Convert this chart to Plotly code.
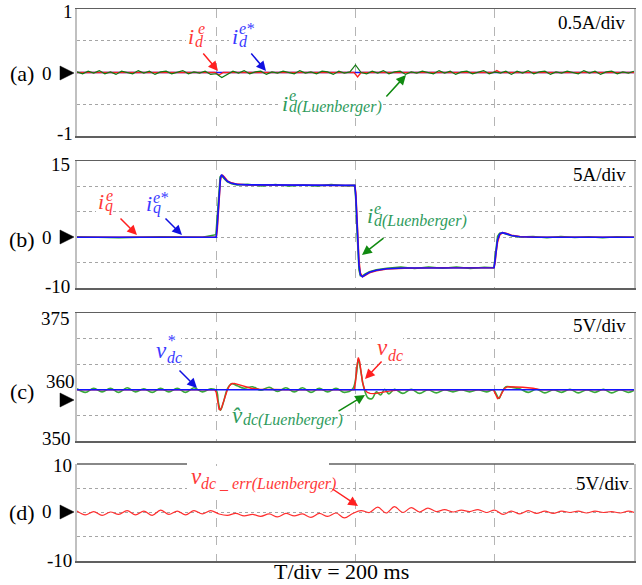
import plotly.graph_objects as go

# ---------------- data (time in ms) ----------------
# (a) d-axis current, A
t_id_luen = [0, 8, 16, 24, 32, 40, 48, 56, 64, 72,
             80, 88, 96, 104, 112, 120, 128, 136, 144, 152,
             160, 168, 176, 184, 192, 200, 208, 216, 224, 232,
             240, 248, 256, 264, 272, 280, 288, 296, 304, 312,
             320, 328, 336, 344, 352, 360, 368, 376, 384, 392,
             400, 408, 416, 424, 432, 440, 448, 456, 464, 472,
             480, 488, 496, 504, 512, 520, 528, 536, 544, 552,
             560, 568, 576, 584, 592, 600, 608, 616, 624, 632,
             640, 648, 656, 664, 672, 680, 688, 696, 704, 712,
             720, 728, 736, 744, 752, 760, 768, 776, 784, 792,
             800]
id_luen = [0.01, -0.02, 0.02, -0.01, 0.03, -0.02, 0.01, -0.03, 0.02, 0.00,
           -0.02, 0.03, -0.01, 0.02, -0.03, 0.01, 0.02, -0.02, 0.00, 0.03,
           -0.02, 0.01, -0.01, 0.02, -0.03, -0.02, -0.08, -0.03, 0.02, -0.01,
           0.03, -0.02, 0.01, 0.02, -0.03, 0.01, -0.01, 0.02, 0.00, -0.02,
           0.03, -0.01, 0.01, -0.02, 0.02, 0.01, -0.03, 0.02, -0.01, 0.01,
           0.12, 0.00, -0.02, 0.02, -0.01, 0.03, -0.02, 0.01, 0.02, -0.03,
           0.01, -0.01, 0.02, 0.00, -0.02, 0.03, -0.01, 0.02, -0.03, 0.01,
           0.02, -0.02, 0.00, 0.03, -0.02, 0.01, -0.01, 0.02, -0.03, 0.02,
           -0.01, 0.03, -0.02, 0.01, 0.02, -0.03, 0.01, -0.01, 0.02, 0.00,
           -0.02, 0.03, -0.01, 0.02, -0.03, 0.01, 0.02, -0.02, 0.01, -0.01,
           0.02]
t_id_meas = [0, 198, 204, 210, 398, 403, 408, 598, 603, 608, 800]
id_meas = [0, 0, -0.04, 0, 0, -0.07, 0, 0, 0.03, 0, 0]
t_id_ref = [0, 800]
id_ref = [0, 0]

# (b) q-axis current, A
t_iq = [0, 200, 201.5, 203, 204.5, 206, 207.5, 209, 212, 216,
        222, 230, 245, 300, 399, 400.5, 402, 403.5, 405, 407,
        410, 414, 420, 430, 445, 470, 520, 599, 600.5, 602,
        604, 607, 611, 616, 624, 636, 660, 800]
iq_ref = [0, 0, 2.5, 6, 9.5, 11.6, 12.2, 12.1, 11.6, 11.0,
          10.6, 10.4, 10.3, 10.25, 10.2, 8, 3, -2, -5.5, -7.4,
          -7.8, -7.4, -6.9, -6.5, -6.2, -6.05, -6.0, -6.0, -4.5, -2.5,
          -0.5, 0.6, 0.9, 0.7, 0.35, 0.1, 0, 0]
iq_meas = [0, 0, 1.5, 4.5, 8.5, 11.2, 12.1, 12.2, 11.8, 11.1,
           10.7, 10.45, 10.3, 10.25, 10.2, 8.8, 4, -1, -4.5, -7,
           -7.8, -7.5, -7.0, -6.6, -6.25, -6.1, -6.0, -6.0, -5, -3,
           -1, 0.4, 0.9, 0.8, 0.4, 0.15, 0, 0]
t_iq_luen = [0, 60, 120, 180, 199.5, 201, 202.5, 204, 205.5, 207,
             209, 212, 216, 222, 230, 245, 265, 285, 305, 325,
             345, 365, 385, 399, 400.5, 402, 403.5, 405, 407, 410,
             414, 420, 430, 445, 465, 485, 505, 525, 545, 565,
             585, 599, 600.5, 602, 604, 607, 611, 616, 624, 636,
             655, 675, 695, 715, 735, 755, 775, 800]
iq_luen = [0.1, -0.1, 0.1, 0, 0.5, 3.5, 7.5, 10.5, 11.9, 12.1,
           11.9, 11.4, 10.9, 10.5, 10.3, 10.4, 10.1, 10.35, 10.1, 10.3,
           10.1, 10.35, 10.15, 10.2, 7, 1.5, -3.5, -6.5, -7.6, -7.6,
           -7.2, -6.8, -6.4, -6.1, -5.85, -6.15, -5.85, -6.1, -5.85, -6.15,
           -5.9, -6.0, -3.8, -1.5, 0.2, 0.8, 0.85, 0.6, 0.3, 0.05,
           0.15, -0.1, 0.15, -0.05, 0.1, -0.1, 0.1, 0]

# (c) dc-link voltage, V
t_vdc_ref = [0, 800]
vdc_ref = [360, 360]
t_vdc = [0, 198, 200, 202, 204, 206, 208, 210, 213, 216,
         219, 222, 226, 230, 236, 242, 250, 262, 280, 300,
         398, 400, 402, 404, 406, 408, 410, 413, 417, 421,
         426, 432, 440, 450, 465, 598, 601, 604, 607, 610,
         614, 619, 626, 640, 655, 665, 800]
vdc = [360, 360, 359.5, 357.5, 356.2, 356.1, 356.6, 357.5, 358.8, 360.0,
       360.8, 361.2, 361.25, 361.1, 360.8, 360.55, 360.3, 360.1, 360.0, 360.0,
       360.0, 361.5, 364.5, 366.3, 365.5, 363.5, 361.5, 360.1, 359.5, 359.3,
       359.25, 359.35, 359.55, 359.8, 360.0, 360.0, 359.2, 358.3, 358.5, 359.4,
       360.3, 360.6, 360.6, 360.5, 360.3, 360.0, 360.0]
t_vdc_luen = [0, 12, 24, 36, 48, 60, 72, 84, 96, 108,
              120, 132, 144, 156, 168, 180, 192, 200, 203, 206,
              210, 216, 222, 230, 240, 252, 264, 276, 288, 300,
              312, 324, 336, 348, 360, 372, 384, 396, 401, 404,
              407, 412, 418, 424, 430, 436, 442, 448, 456, 468,
              480, 492, 504, 516, 528, 540, 552, 564, 576, 588,
              598, 602, 606, 610, 616, 624, 636, 648, 660, 672,
              684, 696, 708, 720, 732, 744, 756, 768, 780, 792,
              800]
vdc_luen = [360.2, 359.5, 360.3, 359.6, 360.3, 359.5, 360.4, 359.6, 360.2, 359.5,
            360.3, 359.6, 360.3, 359.5, 360.4, 359.6, 360.2, 359.9, 357.6, 356.0,
            357.4, 360.2, 361.2, 360.8, 360.3, 360.6, 359.9, 360.5, 359.7, 360.4,
            359.6, 360.4, 359.5, 360.3, 359.6, 360.3, 359.5, 360.2, 362.8, 366.0,
            364.2, 360.4, 358.4, 358.3, 359.6, 359.0, 360.1, 359.2, 360.1, 359.3,
            360.1, 359.3, 360.0, 359.4, 360.0, 359.6, 360.0, 359.6, 360.0, 359.6,
            360.0, 359.2, 358.3, 359.4, 360.6, 360.5, 360.2, 359.5, 360.1, 359.4,
            360.0, 359.5, 360.1, 359.4, 360.0, 359.5, 360.1, 359.4, 360.0, 359.5,
            359.9]

# (d) dc-link voltage estimation error, V
t_err = [0, 12, 24, 36, 48, 60, 72, 84, 96, 108,
         120, 132, 144, 156, 168, 180, 192, 204, 216, 228,
         240, 252, 264, 276, 288, 300, 312, 324, 336, 348,
         360, 372, 384, 396, 408, 420, 432, 444, 456, 468,
         480, 492, 504, 516, 528, 540, 552, 564, 576, 588,
         600, 612, 624, 636, 648, 660, 672, 684, 696, 708,
         720, 732, 744, 756, 768, 780, 792, 800]
vdc_err = [0.3, -0.5, 0.2, -0.6, 0.1, -0.4, 0.4, -0.5, 0.3, -0.6,
           0.5, -0.4, 0.3, -0.5, 0.4, -0.3, 0.4, -0.3, -0.6, -0.2,
           -0.7, -0.4, -0.8, -0.3, -0.9, -0.2, -0.7, -0.3, -1.0, -0.2,
           -0.8, -0.1, -1.1, -0.2, 0.4, 0.0, 1.1, -0.1, 1.2, 0.0,
           1.0, 0.1, 0.9, 0.2, 0.6, 0.1, 0.5, 0.2, 0.6, 0.0,
           0.5, -0.4, 0.3, -0.3, 0.4, -0.2, 0.3, -0.2, 0.3, 0.0,
           0.3, -0.1, 0.3, 0.0, 0.2, -0.1, 0.3, 0.0]

# axes
y_ranges = [(-1, 1), (-10, 15), (350, 375), (-10, 10)]
y_dticks = [0.5, 5, 5, 5]
panel_names = ["(a)", "(b)", "(c)", "(d)"]
scale_labels = ["0.5A/div", "5A/div", "5V/div", "5V/div"]
tick_labels = [["1", "0", "-1"], ["15", "0", "-10"], ["375", "360", "350"], ["10", "0", "-10"]]
x_label = "T/div = 200 ms"

# ---------------- layout geometry (pixels) ----------------
W, H = 642, 585
X0, X1 = 77, 634
panels = [(9, 136), (161, 288), (313, 441), (464, 561)]
SERIF = "Times New Roman, Liberation Serif, serif"

def fx(x):
    return x / W

def fy(y):
    return 1 - y / H

RED, BLUE = "#ff1f1f", "#1414ff"
LRED, LBLUE, LGREEN = "#ff3838", "#3a3aff", "#2e9b5c"

fig = go.Figure()

def add(t, v, k, color, width, shape="linear"):
    fig.add_trace(go.Scatter(
        x=t, y=v, mode="lines",
        xaxis="x" if k == 1 else f"x{k}", yaxis="y" if k == 1 else f"y{k}",
        line=dict(color=color, width=width, shape=shape),
        hoverinfo="skip", showlegend=False))

add(t_id_ref, id_ref, 1, BLUE, 1.4)
add(t_id_meas, id_meas, 1, RED, 1.3)
add(t_id_luen, id_luen, 1, "#127a12", 1.2)

add(t_iq_luen, iq_luen, 2, "#2ca02c", 1.5)
add(t_iq, iq_meas, 2, RED, 1.5)
add(t_iq, iq_ref, 2, BLUE, 1.6)

add(t_vdc_luen, vdc_luen, 3, "#3aa83a", 1.6, "spline")
add(t_vdc, vdc, 3, RED, 1.4)
add(t_vdc_ref, vdc_ref, 3, BLUE, 1.6)

add(t_err, vdc_err, 4, "#ff3030", 1.2, "spline")

layout = dict(width=W, height=H, margin=dict(l=0, r=0, t=0, b=0),
              paper_bgcolor="white", plot_bgcolor="white", showlegend=False)
for k, ((top, bot), (lo, hi), dt) in enumerate(zip(panels, y_ranges, y_dticks), start=1):
    xs = "xaxis" if k == 1 else f"xaxis{k}"
    ys = "yaxis" if k == 1 else f"yaxis{k}"
    layout[xs] = dict(domain=[fx(X0), fx(X1)], range=[0, 800],
                      anchor="y" if k == 1 else f"y{k}",
                      showgrid=True, gridcolor="#b5b5b5", griddash="dash", gridwidth=1,
                      tick0=0, dtick=200, showticklabels=False, ticks="",
                      zeroline=False, showline=True, linecolor="#606060",
                      linewidth=1.5, mirror=(k != 4))
    layout[ys] = dict(domain=[fy(bot), fy(top)], range=[lo, hi],
                      anchor="x" if k == 1 else f"x{k}",
                      showgrid=True, gridcolor="#a5a5a5", griddash="dot", gridwidth=1,
                      tick0=lo, dtick=dt, showticklabels=False, ticks="",
                      zeroline=False, showline=True, linecolor="#c0c0c0",
                      linewidth=2, mirror=True)
fig.update_layout(**layout)

shapes = []
# panel (d) top border with a gap behind its label
for xa, xb in [(X0, 187), (329, X1)]:
    shapes.append(dict(type="line", xref="paper", yref="paper",
                       x0=fx(xa), x1=fx(xb), y0=fy(464), y1=fy(464),
                       line=dict(color="#606060", width=1.5)))
# white label backgrounds
for (xa, ya, xb, yb) in [(186, 22, 204, 47), (229, 20, 253, 47), (279, 90, 381, 118),
                         (96, 190, 113, 218), (143, 190, 165, 218), (364, 204, 463, 231),
                         (153, 335, 181, 364), (372, 336, 403, 362), (229, 405, 340, 428),
                         (187, 466, 329, 493)]:
    shapes.append(dict(type="rect", xref="paper", yref="paper", layer="above",
                       x0=fx(xa), x1=fx(xb), y0=fy(yb), y1=fy(ya),
                       fillcolor="white", line=dict(width=0)))
# black triangles marking zero / reference levels
for c in [73, 237, 400, 512]:
    shapes.append(dict(type="path", xref="paper", yref="paper",
                       path=f"M {fx(60)} {fy(c - 7)} L {fx(74)} {fy(c)} L {fx(60)} {fy(c + 7)} Z",
                       fillcolor="black", line=dict(color="black", width=0.5)))
fig.update_layout(shapes=shapes)

ann = []

def txt(s, x, y, size, color="black", xanchor="left", yanchor="middle"):
    ann.append(dict(text=s, x=fx(x), y=fy(y), xref="paper", yref="paper",
                    xanchor=xanchor, yanchor=yanchor, showarrow=False, borderpad=0,
                    font=dict(family=SERIF, size=size, color=color)))

def ital(s, x, baseline, size, color):
    txt(f"<i>{s}</i>", x, baseline - 0.3 * size, size, color)

def arrow(hx, hy, tx, ty, color):
    ann.append(dict(text="", x=fx(hx), y=fy(hy), xref="paper", yref="paper",
                    ax=tx - hx, ay=ty - hy, showarrow=True, arrowhead=2,
                    arrowsize=1.3, arrowwidth=1.5, arrowcolor=color, standoff=0))

# tick labels, panel names, scales
tick_pos = [[(74, 11), (53, 73), (74, 134)],
            [(71, 164), (53, 237), (71, 286)],
            [(71, 318), (76, 381), (72, 438)],
            [(73, 466), (53, 511), (73, 560)]]
name_pos = [73, 239, 391, 512]
scale_pos = [(627, 23), (627, 174), (627, 325), (630, 484)]
for k in range(4):
    for lab, (x, y) in zip(tick_labels[k], tick_pos[k]):
        txt(lab, x, y, 19, xanchor="right")
    txt(panel_names[k], 22, name_pos[k], 22, xanchor="center")
    txt(scale_labels[k], scale_pos[k][0], scale_pos[k][1], 19, xanchor="right")
txt(x_label, 341, 585, 22, xanchor="center", yanchor="bottom")

# series labels (base letter, superscript above, subscript below)
ital("i", 187, 43, 22, LRED); ital("e", 196.5, 33, 16, LRED); ital("d", 193.5, 46, 16, LRED)
ital("i", 231, 43, 22, LBLUE); ital("e*", 237.5, 33, 16, LBLUE); ital("d", 237.5, 46, 16, LBLUE)
ital("i", 281, 110, 22, LGREEN); ital("e", 288, 100, 16, LGREEN); ital("d(Luenberger)", 287.5, 112, 16, LGREEN)

ital("i", 97, 208, 22, LRED); ital("e", 104.5, 200, 16, LRED); ital("q", 103.5, 211, 16, LRED)
ital("i", 145, 210, 22, LBLUE); ital("e*", 152, 202, 16, LBLUE); ital("q", 151.5, 213, 16, LBLUE)
ital("i", 366, 222, 22, LGREEN); ital("e", 372.5, 213, 16, LGREEN); ital("d(Luenberger)", 372.5, 226, 16, LGREEN)

ital("v", 155, 357, 23, LBLUE); ital("*", 165.5, 345, 16, LBLUE); ital("dc", 165.5, 362, 16, LBLUE)
ital("v", 376, 354, 23, LRED); ital("dc", 386.5, 360, 16, LRED)
ital("v\u0302", 231, 422, 23, LGREEN); ital("dc(Luenberger)", 241.5, 425, 16, LGREEN)
ital("v", 189.5, 483, 23, LRED); ital("dc _ err(Luenberger)", 200, 489, 16, LRED)

# arrows
arrow(218, 71, 202, 52, "#ff2020")
arrow(266, 71, 250, 52, "#1010e0")
arrow(406, 75, 385, 98, "#108a10")
arrow(137, 235, 119, 217, "#ff2020")
arrow(182, 235, 164, 217, "#1010e0")
arrow(362, 255, 385, 237, "#108a10")
arrow(197, 388, 178, 369, "#1010e0")
arrow(365, 379, 383, 360, "#ff2020")
arrow(365, 395, 337, 412, "#108a10")
arrow(358, 506, 331, 488, "#ff2020")

fig.update_layout(annotations=ann)
fig.write_html("out.html",
               config={"displayModeBar": False, "staticPlot": True},
               post_script="document.body.style.margin='0';document.body.style.padding='0';"
                           "document.documentElement.style.overflow='hidden';")
